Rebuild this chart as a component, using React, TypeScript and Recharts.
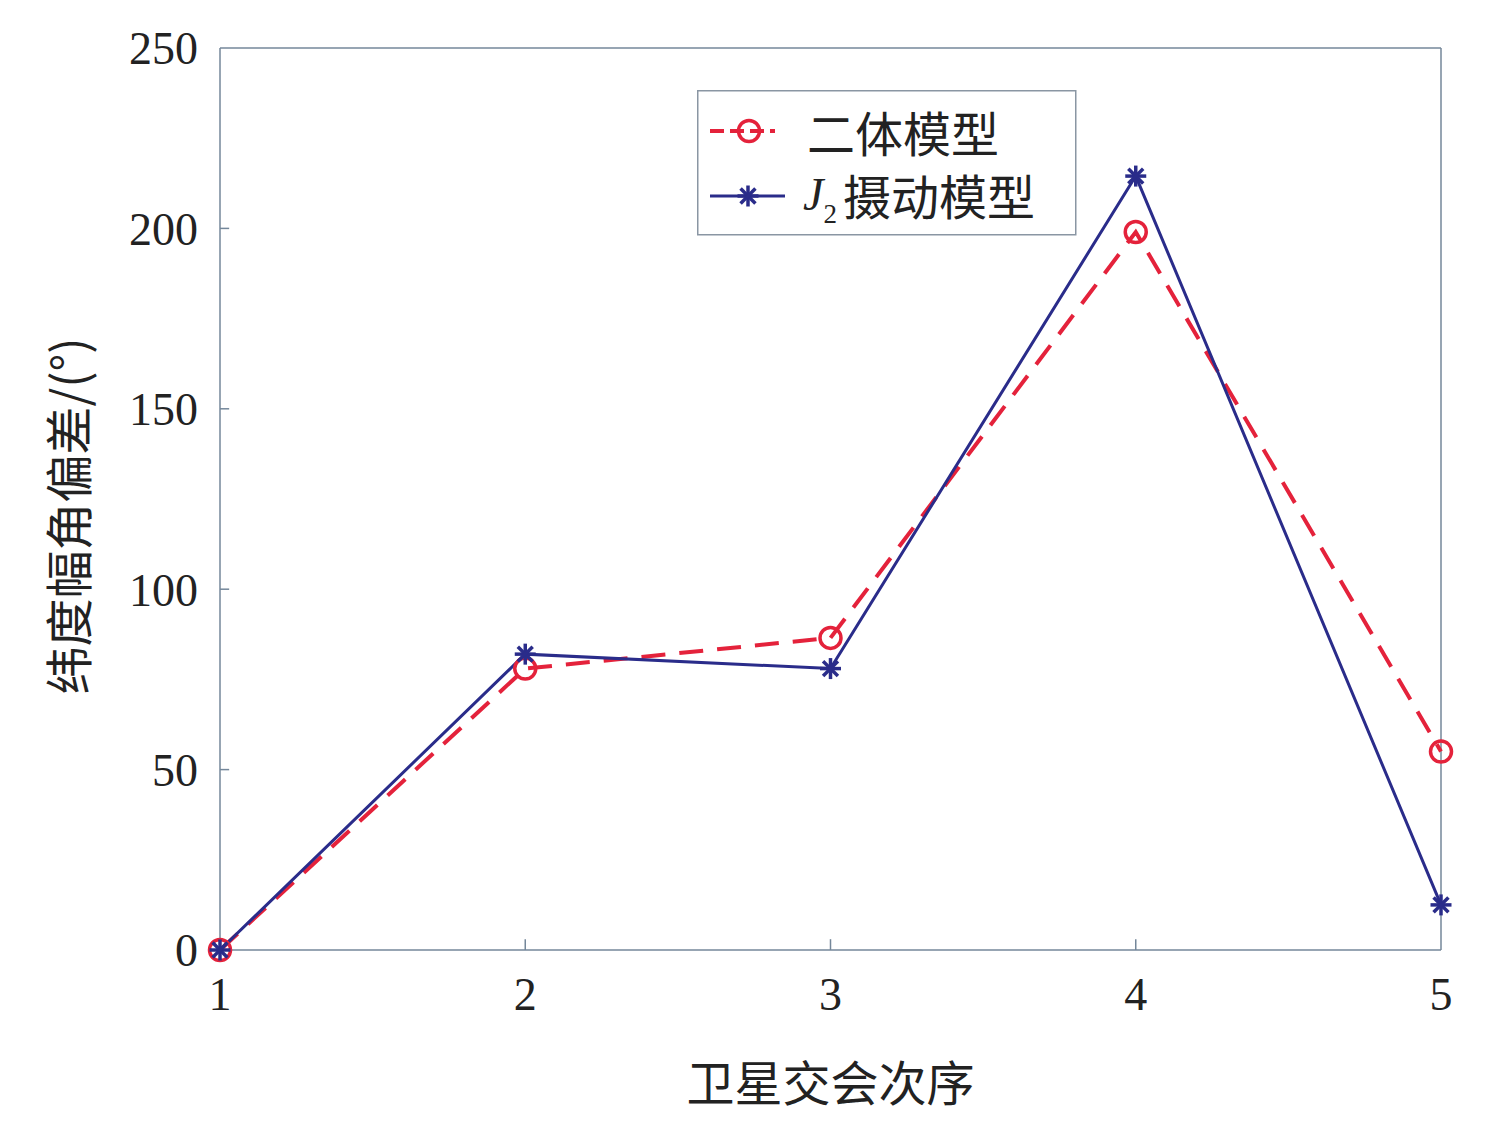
import { LineChart, Line, XAxis, YAxis, ReferenceLine } from 'recharts'

const order = [1, 2, 3, 4, 5]
const twoBody = [0, 78, 86.5, 199, 55]
const j2Model = [0, 82, 78, 214.5, 12.5]
const yTicks = [0, 50, 100, 150, 200, 250]

const data = order.map((n, i) => ({ n, twoBody: twoBody[i], j2: j2Model[i] }))

const RED = '#e4223b'
const BLUE = '#2a2c8a'
const AXIS = '#74879a'
const SERIF = '"Liberation Serif", "Noto Sans CJK SC", serif'
const CJK = '"Noto Sans CJK SC", "Liberation Serif", serif'

function Circle(props: any) {
  const { cx, cy } = props
  if (cx == null || cy == null) return null
  return <circle cx={cx} cy={cy} r={10.5} fill="none" stroke={RED} strokeWidth={3.5} />
}

function Star(props: any) {
  const { cx, cy } = props
  if (cx == null || cy == null) return null
  const r = 10.5
  const arms = [0, 45, 90, 135].map((a) => {
    const rad = (a * Math.PI) / 180
    const dx = Math.cos(rad) * r
    const dy = Math.sin(rad) * r
    return <line key={a} x1={cx - dx} y1={cy - dy} x2={cx + dx} y2={cy + dy} stroke={BLUE} strokeWidth={3.5} />
  })
  return <g>{arms}</g>
}

function YLabel(props: any) {
  const { viewBox } = props
  const cy = viewBox.y + viewBox.height / 2 + 17
  return (
    <text x={66} y={cy} transform={`rotate(-90 66 ${cy})`} textAnchor="middle" dominantBaseline="central"
      fontFamily={CJK} fontSize={48} fill="#222">
      纬度幅角偏差/(°)
    </text>
  )
}

function XLabel(props: any) {
  const { viewBox } = props
  return (
    <text x={viewBox.x + viewBox.width / 2} y={1080} textAnchor="middle" dominantBaseline="central"
      fontFamily={CJK} fontSize={48} fill="#222">
      卫星交会次序
    </text>
  )
}

function LegendBox() {
  return (
    <svg width={380} height={146} style={{ display: 'block' }}>
      <rect x={0.75} y={0.75} width={378} height={144} fill="#fff" stroke="#8a96a3" strokeWidth={1.5} />
      <line x1={13} y1={41} x2={78} y2={41} stroke={RED} strokeWidth={4} strokeDasharray="14 6" />
      <Circle cx={52} cy={41} />
      <text x={110} y={41} dominantBaseline="central" fontFamily={CJK} fontSize={48} fill="#222">二体模型</text>
      <line x1={13} y1={106} x2={88} y2={106} stroke={BLUE} strokeWidth={3} />
      <Star cx={51} cy={106} />
      <text x={106} y={104} dominantBaseline="central" fontFamily={SERIF} fontSize={46} fill="#222">
        <tspan fontStyle="italic">J</tspan>
        <tspan fontSize={27} dy={20}>2</tspan>
        <tspan fontFamily={CJK} fontSize={48} dx={6} dy={-20}>摄动模型</tspan>
      </text>
    </svg>
  )
}

export default function App() {
  return (
    <div style={{ position: 'absolute', left: 0, top: 0, width: 1487, height: 1133, background: '#fff' }}>
      <LineChart width={1487} height={1133} data={data} margin={{ top: 48, right: 46, left: 0, bottom: 0 }}>
        <XAxis
          dataKey="n"
          type="number"
          domain={[1, 5]}
          ticks={order}
          height={183}
          stroke={AXIS}
          strokeWidth={1.5}
          tickLine={false}
          tickSize={0}
          tickMargin={27}
          tick={{ fill: '#222', fontFamily: SERIF, fontSize: 46 }}
          label={<XLabel />}
        />
        <YAxis
          type="number"
          domain={[0, 250]}
          ticks={yTicks}
          width={220}
          stroke={AXIS}
          strokeWidth={1.5}
          tickLine={false}
          tickSize={0}
          tickMargin={22}
          tick={{ fill: '#222', fontFamily: SERIF, fontSize: 46 }}
          label={<YLabel />}
        />
        <ReferenceLine y={250} stroke={AXIS} strokeWidth={1.5} />
        <ReferenceLine x={5} stroke={AXIS} strokeWidth={1.5} />
        {order.slice(1, 4).map((t) => (
          <ReferenceLine key={'x' + t} segment={[{ x: t, y: 0 }, { x: t, y: 3 }]} stroke={AXIS} strokeWidth={1.5} />
        ))}
        {yTicks.slice(1, 5).map((t) => (
          <ReferenceLine key={'y' + t} segment={[{ x: 1, y: t }, { x: 1.03, y: t }]} stroke={AXIS} strokeWidth={1.5} />
        ))}
        <Line
          dataKey="twoBody"
          stroke={RED}
          strokeWidth={4}
          strokeDasharray="24 14"
          dot={<Circle />}
          activeDot={false}
          isAnimationActive={false}
        />
        <Line
          dataKey="j2"
          stroke={BLUE}
          strokeWidth={3}
          dot={<Star />}
          activeDot={false}
          isAnimationActive={false}
        />
      </LineChart>
      <div style={{ position: 'absolute', left: 697, top: 90 }}>
        <LegendBox />
      </div>
    </div>
  )
}
